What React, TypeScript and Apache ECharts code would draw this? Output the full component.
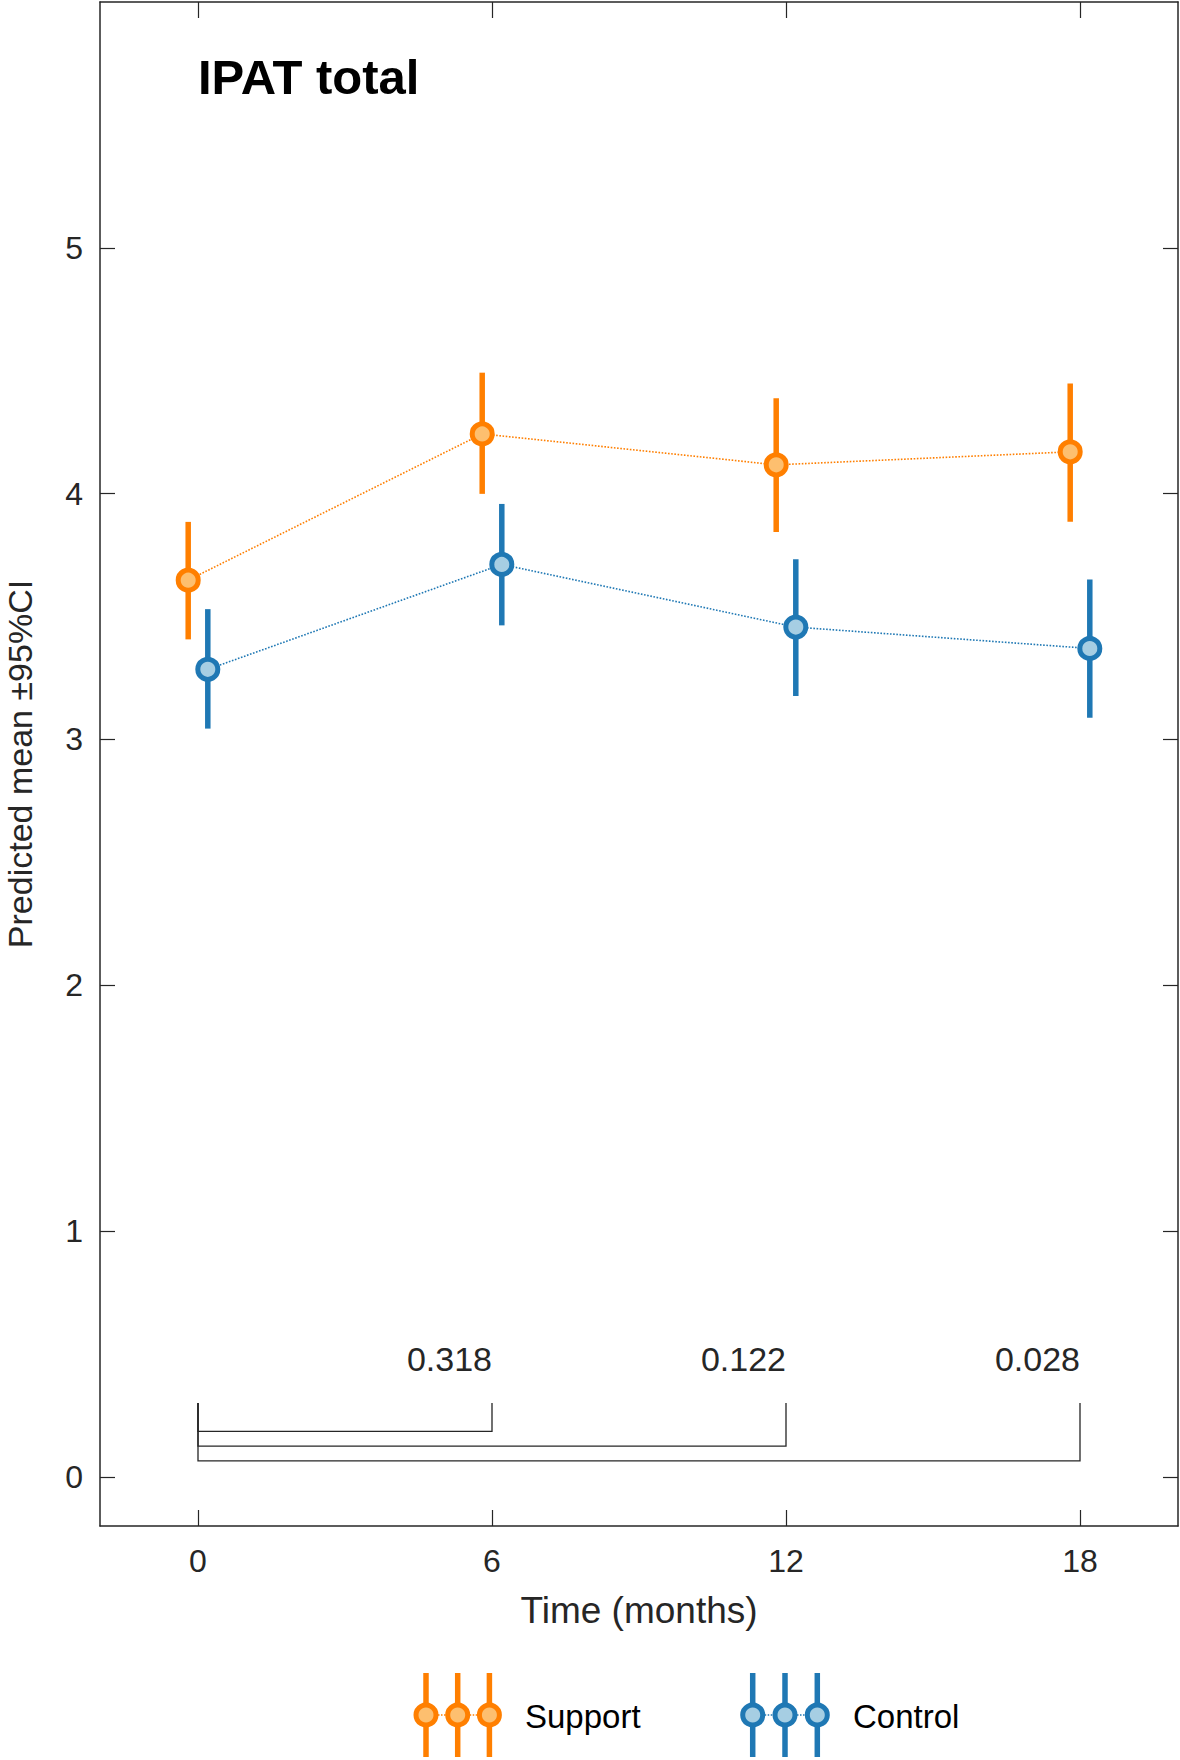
import React, { useEffect, useRef } from 'react';
import * as echarts from 'echarts';

// ---- data ----
const timePoints = [0, 6, 12, 18];
const supportMean = [3.648, 4.243, 4.117, 4.17];
const supportLower = [3.407, 3.999, 3.844, 3.886];
const supportUpper = [3.885, 4.492, 4.388, 4.448];
const controlMean = [3.285, 3.712, 3.457, 3.37];
const controlLower = [3.044, 3.464, 3.177, 3.088];
const controlUpper = [3.53, 3.958, 3.733, 3.651];
const xTicks = [0, 6, 12, 18];
const yTicks = [0, 1, 2, 3, 4, 5];
const pTimes = [6, 12, 18];
const pValues = ['0.318', '0.122', '0.028'];
const bracketLevels = [0.185, 0.125, 0.065];
const bracketTop = 0.3;
const pLabelLevel = 0.478;
const seriesNames = ['Support', 'Control'];

// ---- style ----
const DODGE = 0.2;
const ORANGE = '#FF7F00';
const ORANGE_FILL = '#FDBF6F';
const BLUE = '#1F78B4';
const BLUE_FILL = '#A6CEE3';
const INK = '#262626';
const FONT = '"Liberation Sans", Arial, Helvetica, sans-serif';

function errorBarSeries(name: string, lower: number[], upper: number[], dx: number, color: string) {
  return {
    type: 'custom',
    name,
    xAxisIndex: 0,
    yAxisIndex: 0,
    z: 2,
    data: timePoints.map((t, i) => [t + dx, lower[i], upper[i]]),
    encode: { x: 0, y: [1, 2] },
    renderItem: (params: any, api: any) => {
      const p1 = api.coord([api.value(0), api.value(1)]);
      const p2 = api.coord([api.value(0), api.value(2)]);
      return {
        type: 'line',
        shape: { x1: p1[0], y1: p1[1], x2: p2[0], y2: p2[1] },
        style: { stroke: color, lineWidth: 5.5, lineCap: 'butt' },
      };
    },
  };
}

function meanSeries(name: string, mean: number[], dx: number, color: string, fill: string) {
  return {
    type: 'line',
    name,
    xAxisIndex: 0,
    yAxisIndex: 0,
    z: 3,
    data: timePoints.map((t, i) => [t + dx, mean[i]]),
    symbol: 'circle',
    symbolSize: 20,
    itemStyle: { color: fill, borderColor: color, borderWidth: 5 },
    lineStyle: { color, width: 1.6, type: [1.6, 1.6] },
  };
}

function legendItem(x0: number, step: number, color: string, fill: string, label: string, textX: number) {
  const children: any[] = [];
  for (let k = 0; k < 3; k++) {
    const x = x0 + k * step;
    children.push({
      type: 'line',
      shape: { x1: x, y1: 1673, x2: x, y2: 1757 },
      style: { stroke: color, lineWidth: 5.5 },
      z: 1,
    });
  }
  for (let k = 0; k < 2; k++) {
    const x = x0 + k * step;
    children.push({
      type: 'line',
      shape: { x1: x, y1: 1715, x2: x + step, y2: 1715 },
      style: { stroke: color, lineWidth: 1.5, lineDash: [1.5, 1.5] },
      z: 2,
    });
  }
  for (let k = 0; k < 3; k++) {
    const x = x0 + k * step;
    children.push({
      type: 'circle',
      shape: { cx: x, cy: 1715, r: 10 },
      style: { fill, stroke: color, lineWidth: 5 },
      z: 3,
    });
  }
  children.push({
    type: 'text',
    x: textX,
    y: 1716,
    style: {
      text: label,
      fontSize: 33,
      fontFamily: FONT,
      fill: '#000',
      align: 'left',
      verticalAlign: 'middle',
    },
    z: 4,
  });
  return { type: 'group', children };
}

const axisCommon = {
  axisLine: { show: true, onZero: false, lineStyle: { color: INK, width: 1.5 } },
  splitLine: { show: false },
};

export default function App() {
  const ref = useRef<HTMLDivElement>(null);

  useEffect(() => {
    if (!ref.current) return;
    const chart = echarts.init(ref.current, null, { renderer: 'svg' });
    const option: any = {
      animation: false,
      backgroundColor: '#ffffff',
      grid: { left: 100, right: 2, top: 2, bottom: 234, containLabel: false, outerBoundsMode: 'none' },
      xAxis: [
        {
          type: 'value',
          position: 'bottom',
          min: -2,
          max: 20,
          ...axisCommon,
          axisTick: { show: true, inside: true, length: 16, customValues: xTicks, lineStyle: { color: INK, width: 1.2 } },
          axisLabel: { show: true, customValues: xTicks, margin: 19, fontSize: 32, color: INK, fontFamily: FONT },
          name: 'Time (months)',
          nameLocation: 'middle',
          nameGap: 66,
          nameTextStyle: { fontSize: 37, color: INK, fontFamily: FONT },
        },
        {
          type: 'value',
          position: 'top',
          min: -2,
          max: 20,
          ...axisCommon,
          axisTick: { show: true, inside: true, length: 16, customValues: xTicks, lineStyle: { color: INK, width: 1.2 } },
          axisLabel: { show: false },
        },
      ],
      yAxis: [
        {
          type: 'value',
          position: 'left',
          min: -0.2,
          max: 6,
          ...axisCommon,
          axisTick: { show: true, inside: true, length: 15, customValues: yTicks, lineStyle: { color: INK, width: 1.2 } },
          axisLabel: { show: true, customValues: yTicks, margin: 17, fontSize: 32, color: INK, fontFamily: FONT },
          name: 'Predicted mean \u00B195%CI',
          nameLocation: 'middle',
          nameGap: 63,
          nameTextStyle: { fontSize: 34, color: INK, fontFamily: FONT },
        },
        {
          type: 'value',
          position: 'right',
          min: -0.2,
          max: 6,
          ...axisCommon,
          axisTick: { show: true, inside: true, length: 15, customValues: yTicks, lineStyle: { color: INK, width: 1.2 } },
          axisLabel: { show: false },
        },
      ],
      series: [
        errorBarSeries(seriesNames[0] + ' CI', supportLower, supportUpper, -DODGE, ORANGE),
        errorBarSeries(seriesNames[1] + ' CI', controlLower, controlUpper, DODGE, BLUE),
        meanSeries(seriesNames[0], supportMean, -DODGE, ORANGE, ORANGE_FILL),
        meanSeries(seriesNames[1], controlMean, DODGE, BLUE, BLUE_FILL),
        {
          type: 'custom',
          name: 'brackets',
          xAxisIndex: 0,
          yAxisIndex: 0,
          z: 1,
          data: pTimes.map((t, i) => [t, bracketLevels[i]]),
          encode: { x: 0, y: 1 },
          renderItem: (params: any, api: any) => {
            const t = api.value(0);
            const lv = api.value(1);
            const pts = [
              api.coord([timePoints[0], bracketTop]),
              api.coord([timePoints[0], lv]),
              api.coord([t, lv]),
              api.coord([t, bracketTop]),
            ];
            return {
              type: 'polyline',
              shape: { points: pts },
              style: { stroke: INK, lineWidth: 1.3, fill: 'none' },
            };
          },
        },
        {
          type: 'custom',
          name: 'pvalues',
          xAxisIndex: 0,
          yAxisIndex: 0,
          z: 1,
          data: pTimes.map((t) => [t, pLabelLevel]),
          encode: { x: 0, y: 1 },
          renderItem: (params: any, api: any) => {
            const p = api.coord([api.value(0), api.value(1)]);
            return {
              type: 'text',
              x: p[0],
              y: p[1],
              style: {
                text: pValues[params.dataIndex],
                fontSize: 34,
                fontFamily: FONT,
                fill: INK,
                align: 'right',
                verticalAlign: 'middle',
              },
            };
          },
        },
      ],
      graphic: [
        {
          type: 'text',
          x: 198,
          y: 77,
          style: {
            text: 'IPAT total',
            fontSize: 49,
            fontWeight: 'bold',
            fontFamily: FONT,
            fill: '#000',
            align: 'left',
            verticalAlign: 'middle',
          },
        },
        legendItem(426, 31.7, ORANGE, ORANGE_FILL, seriesNames[0], 525),
        legendItem(752.7, 32.3, BLUE, BLUE_FILL, seriesNames[1], 853),
      ],
    };
    chart.setOption(option);
    return () => chart.dispose();
  }, []);

  return (
    <div
      ref={ref}
      style={{ position: 'absolute', left: 0, top: 0, width: 1180, height: 1760, background: '#fff' }}
    />
  );
}
